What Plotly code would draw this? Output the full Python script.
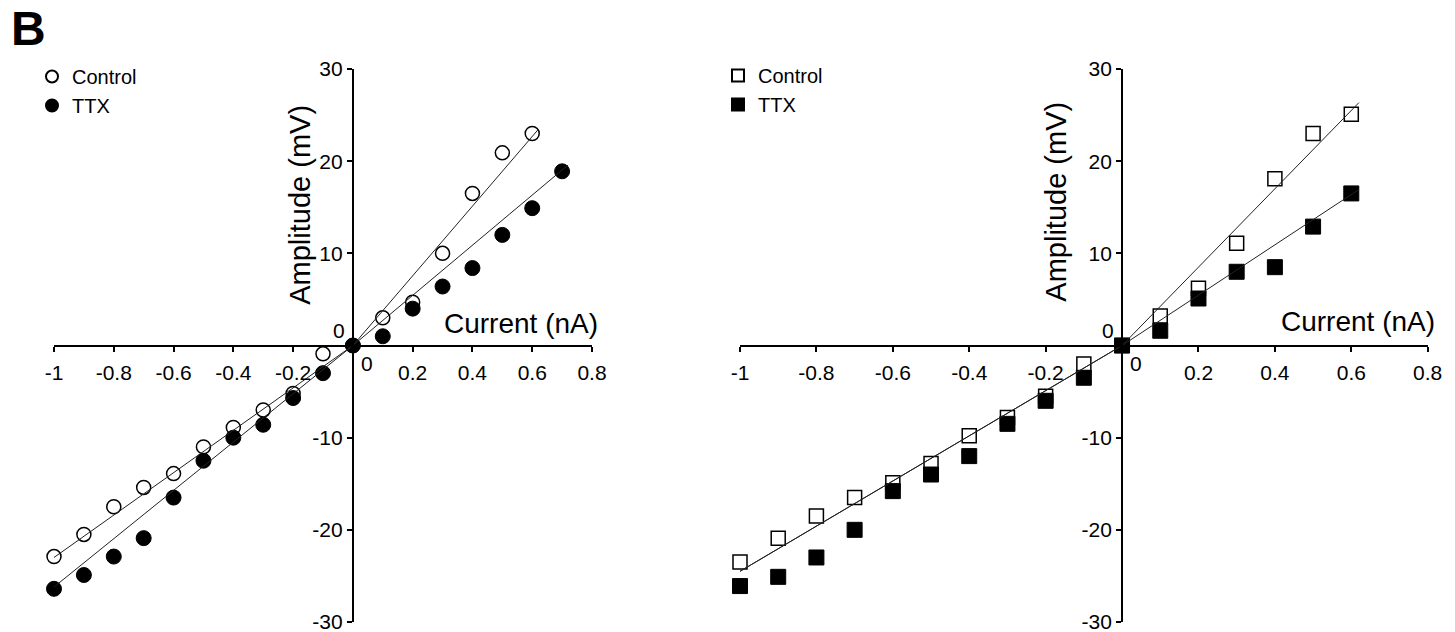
import plotly.graph_objects as go

# ---------------- data ----------------
current_left_ctrl = [-1.0, -0.9, -0.8, -0.7, -0.6, -0.5, -0.4, -0.3, -0.2, -0.1, 0.0, 0.1, 0.2, 0.3, 0.4, 0.5, 0.6]
amp_left_ctrl = [-22.9, -20.5, -17.5, -15.4, -13.9, -11.0, -8.9, -7.0, -5.2, -0.9, 0.0, 3.0, 4.7, 10.0, 16.5, 20.9, 23.0]

current_left_ttx = [-1.0, -0.9, -0.8, -0.7, -0.6, -0.5, -0.4, -0.3, -0.2, -0.1, 0.0, 0.1, 0.2, 0.3, 0.4, 0.5, 0.6, 0.7]
amp_left_ttx = [-26.4, -24.9, -22.9, -20.9, -16.5, -12.5, -10.0, -8.6, -5.7, -3.0, 0.0, 1.0, 4.0, 6.4, 8.4, 12.0, 14.9, 18.9]

current_right_ctrl = [-1.0, -0.9, -0.8, -0.7, -0.6, -0.5, -0.4, -0.3, -0.2, -0.1, 0.0, 0.1, 0.2, 0.3, 0.4, 0.5, 0.6]
amp_right_ctrl = [-23.5, -20.9, -18.5, -16.5, -14.9, -12.8, -9.8, -7.8, -5.5, -2.0, 0.0, 3.2, 6.2, 11.1, 18.1, 23.0, 25.1]

current_right_ttx = [-1.0, -0.9, -0.8, -0.7, -0.6, -0.5, -0.4, -0.3, -0.2, -0.1, 0.0, 0.1, 0.2, 0.3, 0.4, 0.5, 0.6]
amp_right_ttx = [-26.1, -25.1, -23.0, -20.0, -15.8, -14.0, -12.0, -8.5, -6.0, -3.5, 0.0, 1.6, 5.1, 8.0, 8.5, 12.9, 16.5]

# slopes (mV/nA) of the fitted lines through the origin: [negative branch, positive branch]
slope_left_ctrl = [23.0, 37.8]
slope_left_ttx = [26.2, 27.2]
slope_right_ctrl = [24.5, 42.5]
slope_right_ttx = [24.5, 27.3]

x_tickvals = [-1.0, -0.8, -0.6, -0.4, -0.2, 0.2, 0.4, 0.6, 0.8]
x_ticktext = ["-1", "-0.8", "-0.6", "-0.4", "-0.2", "0.2", "0.4", "0.6", "0.8"]
y_tickvals = [-30, -20, -10, 10, 20, 30]
y_ticktext = ["-30", "-20", "-10", "10", "20", "30"]

series_names = ["Control", "TTX"]
x_title = "Current (nA)"
y_title = "Amplitude (mV)"
panel_label = "B"

# ---------------- layout constants ----------------
W, H = 1455, 632
FONT = "Arial, Liberation Sans, Helvetica, sans-serif"
XRANGE = [-1.0, 0.8]
YRANGE = [-30, 30]
xdom_left = [54 / W, 592 / W]
xdom_right = [740 / W, 1427.7 / W]
ydom = [1 - 622 / H, 1 - 69 / H]
TICK_SIZE = 21


def zero_pos(dom, rng):
    return dom[0] + (0 - rng[0]) / (rng[1] - rng[0]) * (dom[1] - dom[0])


fig = go.Figure()


def add_panel(xa, ya, legend, xs_c, ys_c, xs_t, ys_t, sl_c, sl_t, sym):
    fig.add_trace(go.Scatter(
        x=xs_c, y=ys_c, mode="markers", name=series_names[0],
        xaxis=xa, yaxis=ya, legend=legend, cliponaxis=False,
        marker=dict(symbol=sym, size=14, color="white", line=dict(color="black", width=1.5)),
    ))
    fig.add_trace(go.Scatter(
        x=xs_t, y=ys_t, mode="markers", name=series_names[1],
        xaxis=xa, yaxis=ya, legend=legend, cliponaxis=False,
        marker=dict(symbol=sym, size=15, color="black", line=dict(color="black", width=1)),
    ))
    # fitted lines (through origin), separate for negative and positive currents
    for xs, sl, ext in ((xs_c, sl_c, 0.02), (xs_t, sl_t, 0.02)):
        xn = [min(xs), 0.0]
        xp = [0.0, max(xs) + ext]
        fig.add_trace(go.Scatter(
            x=xn + [None] + xp,
            y=[sl[0] * v for v in xn] + [None] + [sl[1] * v for v in xp],
            mode="lines", xaxis=xa, yaxis=ya, showlegend=False, cliponaxis=False,
            line=dict(color="#222222", width=1),
        ))


add_panel("x", "y", "legend", current_left_ctrl, amp_left_ctrl, current_left_ttx, amp_left_ttx,
          slope_left_ctrl, slope_left_ttx, "circle")
add_panel("x2", "y2", "legend2", current_right_ctrl, amp_right_ctrl, current_right_ttx, amp_right_ttx,
          slope_right_ctrl, slope_right_ttx, "square")

xpos = zero_pos(ydom, YRANGE)
xaxis_common = dict(
    range=XRANGE, anchor="free", position=xpos, showgrid=False, zeroline=False,
    showline=True, linecolor="black", linewidth=2,
    ticks="outside", ticklen=5, tickwidth=1.5, tickcolor="black",
    tickvals=x_tickvals, ticktext=x_ticktext, ticklabelstandoff=3,
    ticklabeloverflow="allow",
    tickfont=dict(family=FONT, size=TICK_SIZE, color="black"),
)
yaxis_common = dict(
    range=YRANGE, domain=ydom, anchor="free", showgrid=False, zeroline=False,
    showline=True, linecolor="black", linewidth=2,
    ticks="outside", ticklen=5, tickwidth=1.5, tickcolor="black",
    tickvals=y_tickvals, ticktext=y_ticktext, ticklabeloverflow="allow",
    tickfont=dict(family=FONT, size=TICK_SIZE, color="black"),
)

fig.update_layout(
    width=W, height=H,
    margin=dict(l=0, r=0, t=0, b=0, autoexpand=False),
    paper_bgcolor="white", plot_bgcolor="rgba(0,0,0,0)",
    font=dict(family=FONT, color="black"),
    xaxis=dict(domain=xdom_left, **xaxis_common),
    yaxis=dict(position=zero_pos(xdom_left, XRANGE), **yaxis_common),
    xaxis2=dict(domain=xdom_right, **xaxis_common),
    yaxis2=dict(position=zero_pos(xdom_right, XRANGE), **yaxis_common),
    legend=dict(x=32 / W, y=1 - 57 / H, xanchor="left", yanchor="top",
                font=dict(family=FONT, size=20, color="black"), itemsizing="constant",
                bgcolor="rgba(0,0,0,0)", borderwidth=0, tracegroupgap=0),
    legend2=dict(x=718 / W, y=1 - 56 / H, xanchor="left", yanchor="top",
                 font=dict(family=FONT, size=20, color="black"), itemsizing="constant",
                 bgcolor="rgba(0,0,0,0)", borderwidth=0, tracegroupgap=0),
    showlegend=True,
)

annotations = [
    dict(text="<b>%s</b>" % panel_label, xref="paper", yref="paper", x=9 / W, y=1,
         xanchor="left", yanchor="top", showarrow=False,
         font=dict(family=FONT, size=48, color="black")),
]
for xr, yr, tx, ty, yx, yy in (("x", "y", 0.561, 2.4, -0.176, 15.3),
                               ("x2", "y2", 0.618, 2.6, -0.173, 15.6)):
    annotations += [
        dict(text=x_title, xref=xr, yref=yr, x=tx, y=ty, showarrow=False,
             xanchor="center", yanchor="middle", font=dict(family=FONT, size=28, color="black")),
        dict(text=y_title, xref=xr, yref=yr, x=yx, y=yy, showarrow=False, textangle=-90,
             xanchor="center", yanchor="middle", font=dict(family=FONT, size=29, color="black")),
        dict(text="0", xref=xr, yref=yr, x=0, y=0, xshift=14, yshift=-18, showarrow=False,
             xanchor="center", yanchor="middle", font=dict(family=FONT, size=TICK_SIZE, color="black")),
        dict(text="0", xref=xr, yref=yr, x=0, y=0, xshift=-14, yshift=15, showarrow=False,
             xanchor="center", yanchor="middle", font=dict(family=FONT, size=TICK_SIZE, color="black")),
    ]
fig.update_layout(annotations=annotations)

fig.write_html("out.html")
